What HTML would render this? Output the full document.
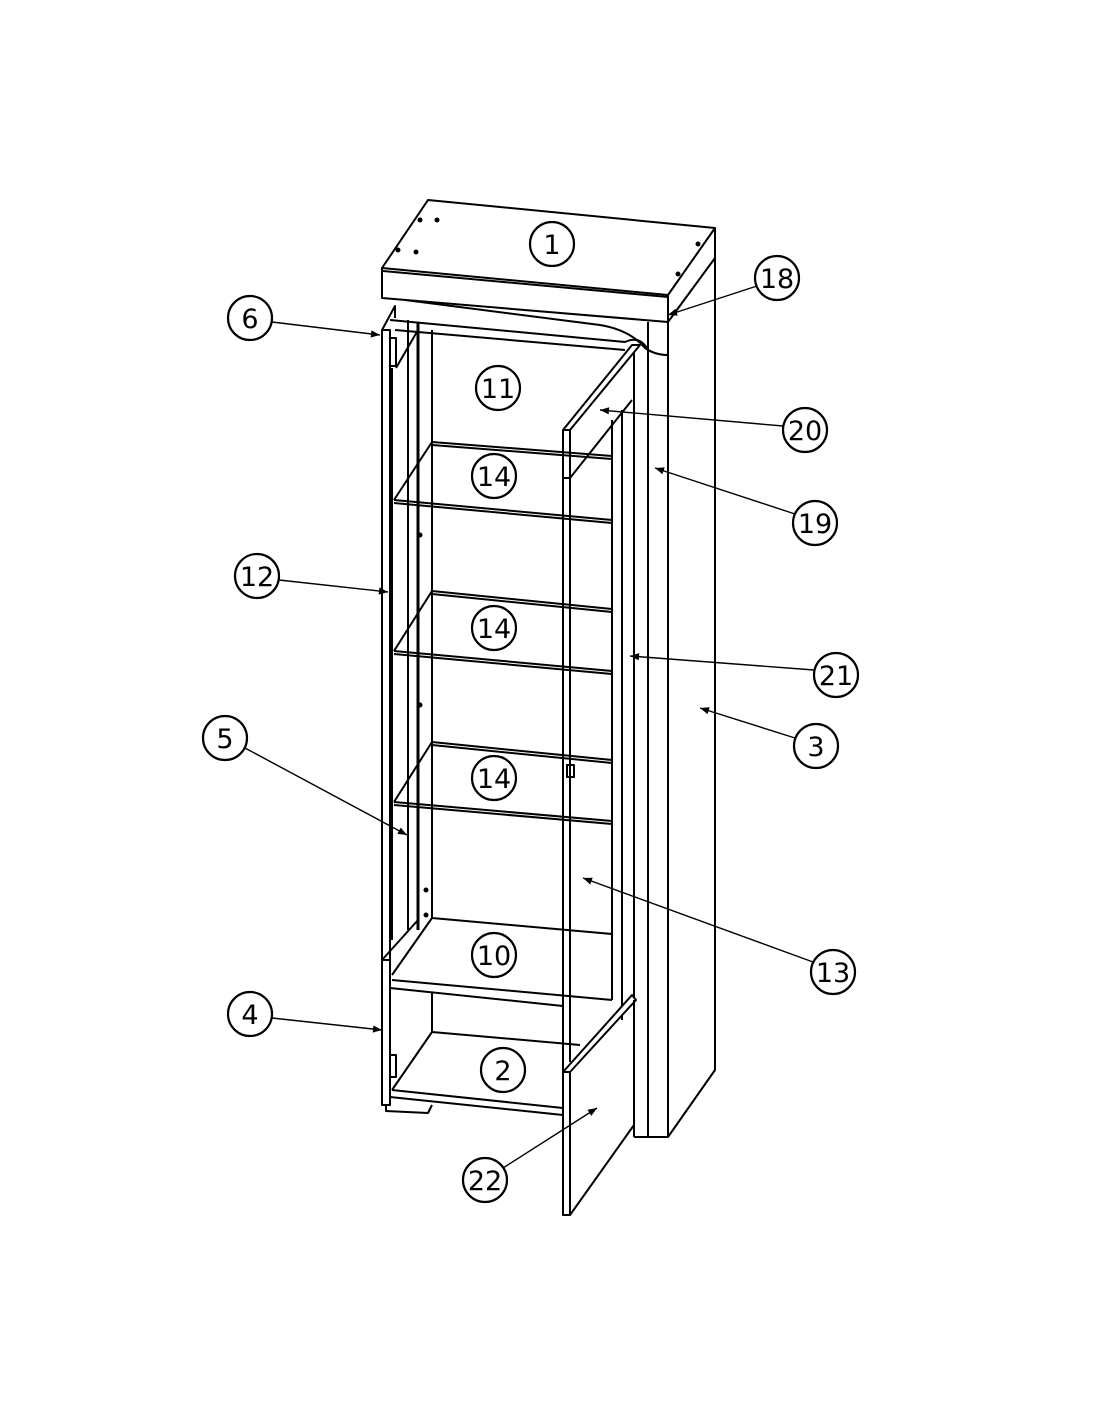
<!DOCTYPE html>
<html><head><meta charset="utf-8"><style>
html,body{margin:0;padding:0;background:#fff}
svg{display:block}
text{font-family:"DejaVu Sans","Liberation Sans",sans-serif;font-size:27px;text-anchor:middle;fill:#000}
</style></head><body>
<svg width="1100" height="1422" viewBox="0 0 1100 1422" xmlns="http://www.w3.org/2000/svg">
<defs>
<marker id="ah" viewBox="0 0 10 10" refX="10" refY="5" markerWidth="16" markerHeight="9" orient="auto" markerUnits="userSpaceOnUse"><path d="M0,1 L10,5 L0,9 z" fill="#000"/></marker>
</defs>
<g fill="none" stroke="#000" stroke-width="2" stroke-linejoin="round">
<path d="M428,200 L715,228 L668,295 L382,268 Z" fill="#fff"/>
<path d="M382,268 L382,298 L668,322 L668,295"/>
<path d="M383,271 L668,297"/>
<path d="M668,322 L715,258 L715,228"/>
<path d="M715,228 L715,1070 L668,1137"/>
<path d="M668,295 L668,1137 L634,1137"/>
<path d="M648,322 L648,1137"/>
<path d="M634,350 L634,1137"/>
<path d="M405,300 L600,325 Q630,330 645,348 Q655,355 668,355"/>
<path d="M390,320 L625,342 Q640,335 648,350"/>
<path d="M395,330 L625,350"/>
<path d="M612,420 L612,1000"/>
<path d="M622,410 L622,1020"/>
<path d="M563,430 L632,345 L640,345 L570,430 Z" fill="#fff"/>
<path d="M563,430 L563,478 L570,478 L570,430"/>
<path d="M570,478 L632,400"/>
<path d="M382,330 L382,960 L390,960 L390,330 Z"/>
<path d="M382,330 L395,306 L395,318"/>
<path d="M392,368 L392,940"/>
<rect x="390" y="338" width="6" height="28"/>
<path d="M396,368 L418,330"/>
<path d="M408,320 L408,930"/>
<path d="M418,322 L418,930" stroke-width="3"/>
<path d="M432,330 L432,918"/>
<path d="M432,442 L612,456 M432,445 L612,459 M394,500 L612,520 M394,503 L612,523 M432,442 L394,500"/>
<path d="M432,591 L612,609 M432,594 L612,612 M394,651 L612,671 M394,654 L612,674 M432,591 L394,651"/>
<path d="M432,742 L612,760 M432,745 L612,763 M394,802 L612,821 M394,805 L612,824 M432,742 L394,802"/>
<path d="M563,478 L563,1072 M570,478 L570,1062"/>
<rect x="567" y="765" width="7" height="12"/>
<path d="M432,918 L612,934 M392,980 L612,1000 M390,988 L563,1006 M432,918 L392,975"/>
<path d="M382,960 L382,1105 L390,1105 L390,960 M382,960 L418,920"/>
<path d="M432,993 L432,1032"/>
<path d="M432,1032 L580,1045 M392,1090 L563,1108 M390,1097 L563,1115 M432,1032 L392,1090"/>
<rect x="390" y="1055" width="6" height="22"/>
<path d="M386,1105 L386,1111 L428,1113 L432,1105"/>
<path d="M563,1072 L632,995 L636,1000 L570,1072 Z" fill="#fff"/>
<path d="M563,1072 L563,1215 L570,1215 L570,1072"/>
<path d="M570,1215 L634,1125 L634,1000"/>
</g>
<g fill="#000">
<circle cx="420" cy="220" r="2.5"/><circle cx="437" cy="220" r="2.5"/><circle cx="398" cy="250" r="2.5"/><circle cx="416" cy="252" r="2.5"/><circle cx="678" cy="274" r="2.5"/><circle cx="698" cy="244" r="2.5"/>
<circle cx="420" cy="535" r="2.5"/><circle cx="420" cy="705" r="2.5"/><circle cx="426" cy="890" r="2.5"/><circle cx="426" cy="915" r="2.5"/>
</g>
<g stroke="#000" stroke-width="1.4" marker-end="url(#ah)">
<line x1="757" y1="286" x2="668" y2="315"/>
<line x1="272" y1="322" x2="380" y2="335"/>
<line x1="783" y1="426" x2="600" y2="410"/>
<line x1="795" y1="514" x2="655" y2="468"/>
<line x1="279" y1="580" x2="388" y2="592"/>
<line x1="814" y1="670" x2="630" y2="656"/>
<line x1="795" y1="738" x2="700" y2="708"/>
<line x1="245" y1="748" x2="407" y2="835"/>
<line x1="813" y1="962" x2="583" y2="878"/>
<line x1="272" y1="1018" x2="382" y2="1030"/>
<line x1="503" y1="1168" x2="597" y2="1108"/>
</g>
<g fill="#fff" stroke="#000" stroke-width="2.2">
<circle cx="552" cy="244" r="22"/><circle cx="777" cy="278" r="22"/><circle cx="250" cy="318" r="22"/>
<circle cx="498" cy="388" r="22"/><circle cx="805" cy="430" r="22"/><circle cx="494" cy="476" r="22"/>
<circle cx="815" cy="523" r="22"/><circle cx="257" cy="576" r="22"/><circle cx="494" cy="628" r="22"/>
<circle cx="836" cy="675" r="22"/><circle cx="816" cy="746" r="22"/><circle cx="225" cy="738" r="22"/>
<circle cx="494" cy="778" r="22"/><circle cx="494" cy="955" r="22"/><circle cx="833" cy="972" r="22"/>
<circle cx="250" cy="1014" r="22"/><circle cx="503" cy="1070" r="22"/><circle cx="485" cy="1180" r="22"/>
</g>
<g>
<text x="552" y="254">1</text><text x="777" y="288">18</text><text x="250" y="328">6</text>
<text x="498" y="398">11</text><text x="805" y="440">20</text><text x="494" y="486">14</text>
<text x="815" y="533">19</text><text x="257" y="586">12</text><text x="494" y="638">14</text>
<text x="836" y="685">21</text><text x="816" y="756">3</text><text x="225" y="748">5</text>
<text x="494" y="788">14</text><text x="494" y="965">10</text><text x="833" y="982">13</text>
<text x="250" y="1024">4</text><text x="503" y="1080">2</text><text x="485" y="1190">22</text>
</g>
</svg>
</body></html>
